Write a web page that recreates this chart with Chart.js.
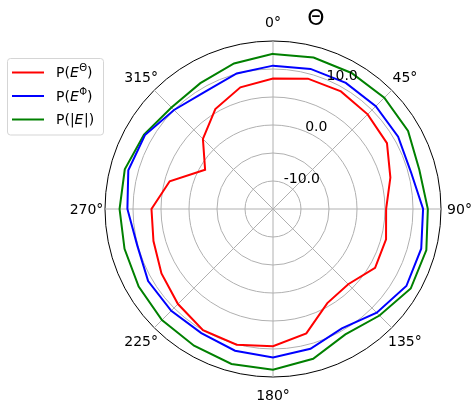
<!DOCTYPE html>
<html>
<head>
<meta charset="utf-8">
<script src="https://cdn.jsdelivr.net/npm/chart.js@4.4.1/dist/chart.umd.min.js"></script>
<style>
  html, body { margin: 0; padding: 0; background: #fff; }
  canvas { display: block; }
</style>
</head>
<body>
<canvas id="chart" width="471" height="405"></canvas>
<script>
// angles in degrees, 0 at the top, going clockwise
const angles = [0, 15, 30, 45, 60, 75, 90, 105, 120, 135, 150, 165,
  180, 195, 210, 225, 240, 255, 270, 285, 300, 315, 330, 345];

const powerTheta = [8.3, 9.1, 9.25, 8.9, 8.5, 6.7, 5.2, 5.9, 6.05, 4.0, 4.4, 8.0,
  9.5, 10.1, 10.0, 9.0, 8.0, 7.1, 6.7, 4.1, -1.0, 2.7, 5.6, 7.5];
const powerPhi = [10.6, 10.9, 11.0, 10.95, 10.8, 10.5, 11.8, 12.4, 12.5, 11.2, 9.6, 10.85,
  11.5, 11.2, 10.6, 10.7, 10.75, 10.1, 11.0, 11.75, 11.4, 10.0, 9.2, 10.05];
const powerAbs = [12.7, 13.0, 13.05, 13.1, 12.85, 12.05, 12.65, 13.35, 13.4, 11.9, 10.85, 12.7,
  13.7, 13.65, 13.2, 13.05, 12.7, 12.45, 12.4, 12.4, 11.6, 10.65, 10.95, 11.9];

const angleTicks = [0, 45, 90, 135, 180, 225, 270, 315];
const radialTicks = [-10, 0, 10];
const rMin = -15;
const rMax = 15;

const seriesColors = ["#ff0000", "#0000ff", "#008000"];
// legend text pieces: plain, italic E, superscript
const legendParts = [
  [["P(", ""], ["E", "italic"], ["Θ", "sup"], [")", ""]],
  [["P(", ""], ["E", "italic"], ["Φ", "sup"], [")", ""]],
  [["P(|", ""], ["E", "italic"], ["|)", ""]],
];

const FONT = '"DejaVu Sans", sans-serif';

const polarDecor = {
  id: "polarDecor",
  afterDraw(chart) {
    const ctx = chart.ctx;
    const r = chart.scales.r;
    ctx.save();
    ctx.fillStyle = "#000";

    // angle labels
    ctx.font = "14px " + FONT;
    ctx.textAlign = "center";
    ctx.textBaseline = "middle";
    angleTicks.forEach((a) => {
      const p = r.getPointPosition(a / 15, r.drawingArea + 18.5);
      ctx.fillText(a + "°", p.x, p.y + 1);
    });

    // radial labels at 22.5 deg
    ctx.textAlign = "left";
    ctx.textBaseline = "alphabetic";
    radialTicks.forEach((v) => {
      const p = r.getPointPosition(1.5, r.getDistanceFromCenterForValue(v));
      ctx.fillText(v.toFixed(1), p.x, p.y);
    });

    // title
    ctx.font = "22px " + FONT;
    ctx.textAlign = "center";
    ctx.textBaseline = "middle";
    ctx.fillText("Θ", 316, 19);

    // legend
    ctx.fillStyle = "#fff";
    ctx.strokeStyle = "#d5d5d5";
    ctx.lineWidth = 1;
    ctx.beginPath();
    ctx.roundRect(7.5, 58.5, 96, 76.5, 3);
    ctx.fill();
    ctx.stroke();
    const rowsY = [72.5, 96, 119.5];
    ctx.textAlign = "left";
    ctx.textBaseline = "middle";
    legendParts.forEach((parts, i) => {
      const y = rowsY[i];
      ctx.strokeStyle = seriesColors[i];
      ctx.lineWidth = 2;
      ctx.beginPath();
      ctx.moveTo(12, y);
      ctx.lineTo(44, y);
      ctx.stroke();
      ctx.fillStyle = "#000";
      let x = 56;
      parts.forEach(([t, style]) => {
        let dy = 1;
        if (style === "italic") ctx.font = "italic 14px " + FONT;
        else if (style === "sup") { ctx.font = "10px " + FONT; dy = -4; }
        else ctx.font = "14px " + FONT;
        ctx.fillText(t, x, y + dy);
        x += ctx.measureText(t).width + (style === "italic" ? 0.5 : 0);
      });
    });
    ctx.restore();
  },
};

const chartData = {
  labels: angles.map((a) => a + "°"),
  datasets: [
    { label: "P(EΘ)", data: powerTheta, borderColor: seriesColors[0] },
    { label: "P(EΦ)", data: powerPhi, borderColor: seriesColors[1] },
    { label: "P(|E|)", data: powerAbs, borderColor: seriesColors[2] },
  ],
};

const chartConfig = {
  type: "radar",
  data: chartData,
  options: {
    responsive: false,
    animation: false,
    layout: { padding: { left: 105, right: 30, top: 41, bottom: 28 } },
    elements: {
      line: { borderWidth: 2, tension: 0, fill: false },
      point: { radius: 0, hoverRadius: 0 },
    },
    scales: {
      r: {
        min: rMin,
        max: rMax,
        ticks: { display: false, stepSize: 5 },
        pointLabels: { display: false },
        grid: {
          circular: true,
          color: (c) => (c.tick && c.tick.value === rMax ? "#000" : "#b0b0b0"),
          lineWidth: 1,
        },
        angleLines: {
          color: "#b0b0b0",
          lineWidth: (c) => (c.index % 3 === 0 ? 1 : 0),
        },
      },
    },
    plugins: {
      legend: { display: false },
      tooltip: { enabled: false },
    },
  },
  plugins: [polarDecor],
};

const chart = new Chart("chart", chartConfig);
</script>
</body>
</html>
